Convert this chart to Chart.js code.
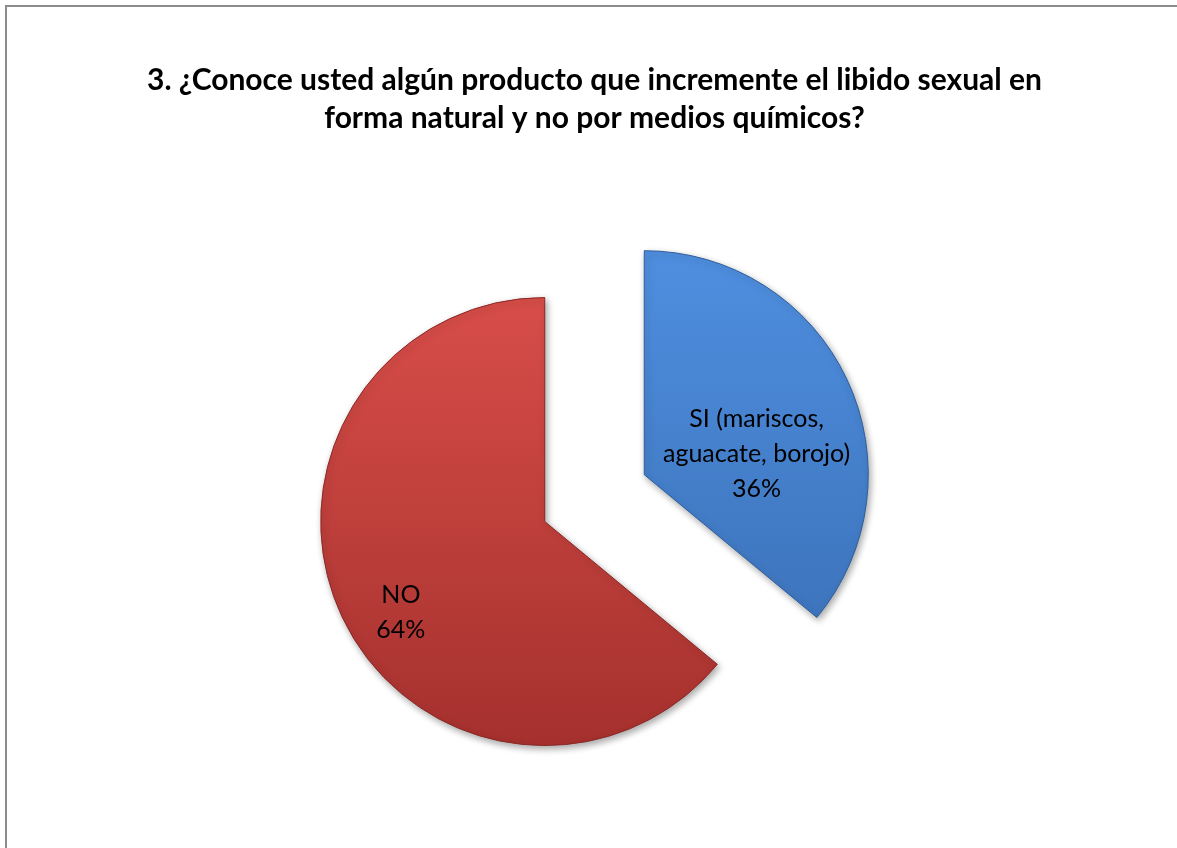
<!DOCTYPE html>
<html>
<head>
<meta charset="utf-8">
<script src="https://cdn.jsdelivr.net/npm/chart.js@4.4.0/dist/chart.umd.min.js"></script>
<style>
html, body { margin: 0; padding: 0; background: #fff; overflow: hidden; }
#wrap { width: 1177px; height: 848px; position: relative; }
</style>
</head>
<body>
<div id="wrap"><canvas id="myChart"></canvas></div>
<script>
// datos
var titulo = ['3. ¿Conoce usted algún producto que incremente el libido sexual en', 'forma natural y no por medios químicos?'];
var categorias = ['SI (mariscos, aguacate, borojo)', 'NO'];
var etiquetas = [['SI (mariscos,', 'aguacate, borojo)'], ['NO']];
var porcentajes = [36, 64];

// estilo
var coloresArriba = ['#4f8fe0', '#de514c'];
var coloresAbajo = ['#376bb0', '#a4302d'];
var bordes = ['#2e5d9c', '#8a2825'];
var separacion = [110, 0];          // slice explosion, px
var etiquetaRadio = [0.51, 0.76];   // label distance as share of the radius
var etiquetaGiro = [14.7, -7.1];    // label angle shift, degrees
var radio = 224;

function degradado(c, i) {
  var chart = c.chart;
  var ca = chart.chartArea;
  if (!ca) return coloresArriba[i];
  var cy = (ca.top + ca.bottom) / 2;
  var g = chart.ctx.createLinearGradient(0, cy - radio - 30, 0, cy + radio + 30);
  g.addColorStop(0, coloresArriba[i]);
  g.addColorStop(1, coloresAbajo[i]);
  return g;
}

var marco = {
  id: 'marco',
  beforeDraw: function (chart) {
    var ctx = chart.ctx;
    ctx.save();
    ctx.strokeStyle = '#8c8c8c';
    ctx.lineWidth = 2;
    ctx.beginPath();
    ctx.moveTo(6, chart.height);
    ctx.lineTo(6, 6);
    ctx.lineTo(chart.width, 6);
    ctx.stroke();
    ctx.restore();
  }
};

// Excel style explosion: move the slice out, then centre the whole pie
var explotar = {
  id: 'explotar',
  afterUpdate: function (chart) {
    var arcs = chart.getDatasetMeta(0).data;
    arcs.forEach(function (a, i) {
      var mid = (a.startAngle + a.endAngle) / 2;
      a.x += Math.cos(mid) * separacion[i];
      a.y += Math.sin(mid) * separacion[i];
    });
    var minX = Infinity, maxX = -Infinity, minY = Infinity, maxY = -Infinity;
    arcs.forEach(function (a) {
      var pts = [[a.x, a.y]];
      for (var k = 0; k <= 90; k++) {
        var ang = a.startAngle + (a.endAngle - a.startAngle) * k / 90;
        pts.push([a.x + Math.cos(ang) * a.outerRadius, a.y + Math.sin(ang) * a.outerRadius]);
      }
      pts.forEach(function (p) {
        minX = Math.min(minX, p[0]); maxX = Math.max(maxX, p[0]);
        minY = Math.min(minY, p[1]); maxY = Math.max(maxY, p[1]);
      });
    });
    var ca = chart.chartArea;
    var dx = (ca.left + ca.right) / 2 - (minX + maxX) / 2;
    var dy = (ca.top + ca.bottom) / 2 - (minY + maxY) / 2;
    arcs.forEach(function (a) { a.x += dx; a.y += dy; });
  },
  beforeDatasetsDraw: function (chart) {
    var ctx = chart.ctx;
    ctx.save();
    ctx.shadowColor = 'rgba(0,0,0,0.35)';
    ctx.shadowBlur = 7;
    ctx.shadowOffsetX = 2;
    ctx.shadowOffsetY = 3;
  },
  afterDatasetsDraw: function (chart) {
    chart.ctx.restore();
  }
};

var rotulos = {
  id: 'rotulos',
  afterDatasetsDraw: function (chart) {
    var ctx = chart.ctx;
    var arcs = chart.getDatasetMeta(0).data;
    ctx.save();
    ctx.fillStyle = '#000';
    ctx.font = '25px Lato';
    ctx.textAlign = 'center';
    ctx.textBaseline = 'middle';
    arcs.forEach(function (a, i) {
      var ang = (a.startAngle + a.endAngle) / 2 + etiquetaGiro[i] * Math.PI / 180;
      var r = a.outerRadius * etiquetaRadio[i];
      var x = a.x + Math.cos(ang) * r;
      var y = a.y + Math.sin(ang) * r;
      var lineas = etiquetas[i].concat([porcentajes[i] + '%']);
      var alto = 35;
      var y0 = y - (lineas.length - 1) * alto / 2;
      lineas.forEach(function (t, k) { ctx.fillText(t, x, y0 + k * alto); });
    });
    ctx.restore();
  }
};

var ctx = document.getElementById('myChart');
var grafico = new Chart(ctx, {
  type: 'pie',
  data: {
    labels: categorias,
    datasets: [{
      data: porcentajes,
      backgroundColor: function (c) { return degradado(c, c.dataIndex); },
      borderColor: bordes,
      borderWidth: 1,
      clip: false
    }]
  },
  options: {
    responsive: true,
    maintainAspectRatio: false,
    animation: false,
    radius: radio,
    layout: { padding: { left: 12, right: 0, top: 0, bottom: 6 } },
    plugins: {
      legend: { display: false },
      title: {
        display: true,
        text: titulo,
        color: '#000',
        font: { family: 'Lato', size: 30, weight: 'bold', lineHeight: 1.27 },
        padding: { top: 61, bottom: 17 }
      },
      tooltip: {
        callbacks: {
          label: function (c) { return c.label + ': ' + c.parsed + '%'; }
        }
      }
    }
  },
  plugins: [marco, explotar, rotulos]
});
</script>
</body>
</html>
